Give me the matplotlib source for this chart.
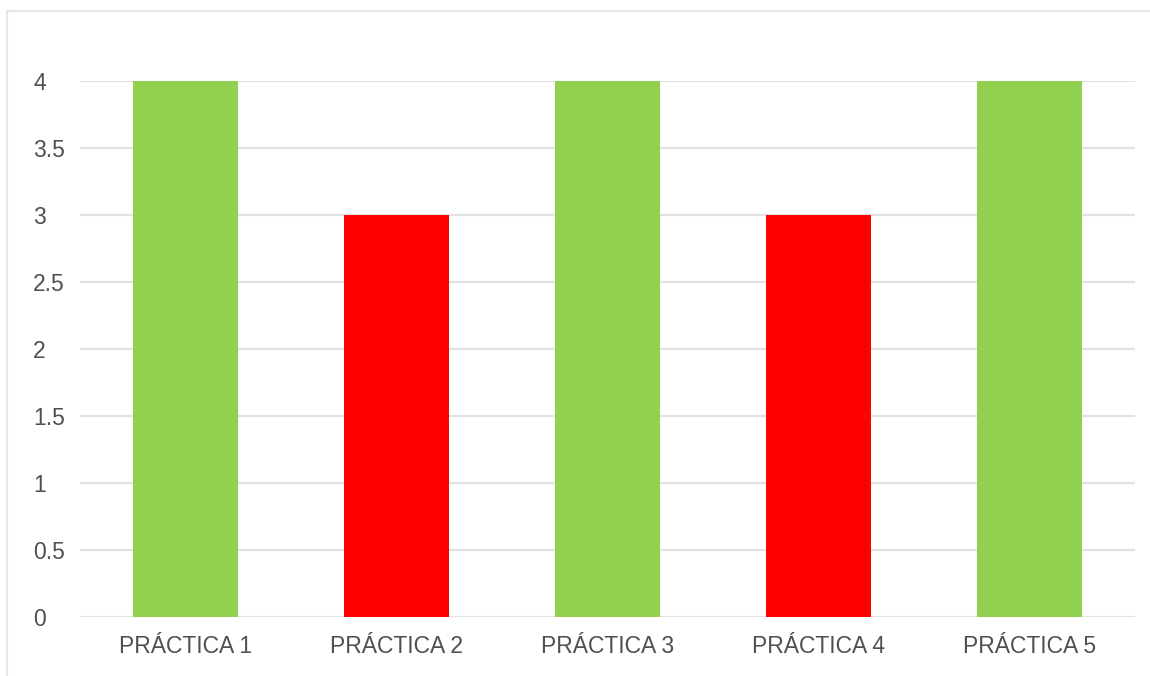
import matplotlib
matplotlib.use('Agg')
from matplotlib import pyplot as plt
from matplotlib.lines import Line2D

practicas = ['PRÁCTICA 1', 'PRÁCTICA 2', 'PRÁCTICA 3', 'PRÁCTICA 4', 'PRÁCTICA 5']
notas = [4, 3, 4, 3, 4]
colores = ['#92d050', '#ff0000', '#92d050', '#ff0000', '#92d050']
y_ticks = [0, 0.5, 1, 1.5, 2, 2.5, 3, 3.5, 4]

plt.rcParams['font.family'] = ['Liberation Sans', 'DejaVu Sans']

fig = plt.figure(figsize=(11.5, 6.76), dpi=100)
ax = fig.add_axes([80 / 1150, 59 / 676, 1055 / 1150, 536 / 676])

ax.bar(range(len(practicas)), notas, width=0.5, color=colores, zorder=3)

ax.set_xlim(-0.5, len(practicas) - 0.5)
ax.set_ylim(0, 4)
ax.set_yticks(y_ticks)
ax.set_yticklabels(['%g' % t for t in y_ticks])
ax.set_xticks(range(len(practicas)))
ax.set_xticklabels(practicas)

ax.grid(axis='y', color='#e2e2e2', linewidth=1.6, zorder=0)
ax.set_axisbelow(True)
for s in ax.spines.values():
    s.set_visible(False)

ax.tick_params(axis='both', length=0, labelsize=16.5, labelcolor='#505050')
ax.tick_params(axis='x', pad=13)
ax.tick_params(axis='y', pad=47 * 0.72)
for lbl in ax.get_yticklabels():
    lbl.set_horizontalalignment('left')

# marco gris del gráfico
fig.add_artist(Line2D([7 / 1150, 1], [1 - 11 / 676, 1 - 11 / 676],
                      transform=fig.transFigure, color='#e6e6e6', linewidth=1.5))
fig.add_artist(Line2D([7 / 1150, 7 / 1150], [0, 1 - 11 / 676],
                      transform=fig.transFigure, color='#e6e6e6', linewidth=1.5))

fig.savefig('out.png', dpi=100)
